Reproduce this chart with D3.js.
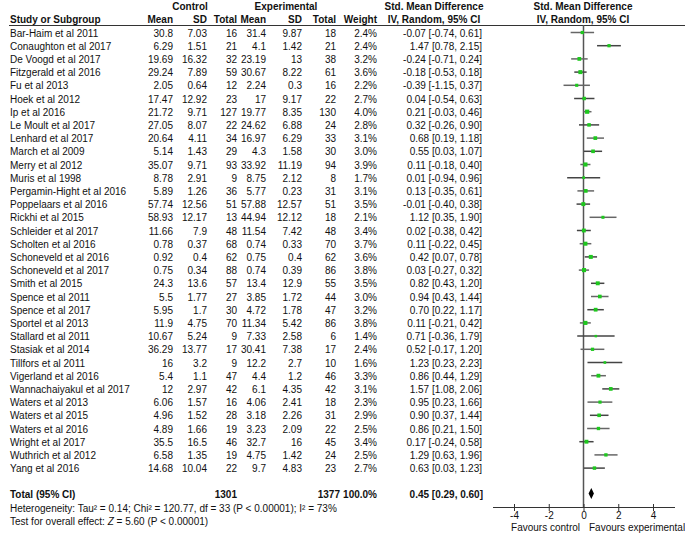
<!DOCTYPE html>
<html><head><meta charset="utf-8">
<script src="https://cdn.jsdelivr.net/npm/d3@7"></script>
<style>
body{margin:0;background:#fff;}
text{font-family:"Liberation Sans",Arial,sans-serif;font-size:10px;fill:#111;}
.b{font-weight:bold;}
</style></head><body>
<svg id="c" width="685" height="533"></svg>
<script>
const studies = ["Bar-Haim et al 2011","Conaughton et al 2017","De Voogd et al 2017","Fitzgerald et al 2016","Fu et al 2013","Hoek et al 2012","Ip et al 2016","Le Moult et al 2017","Lenhard et al 2017","March et al 2009","Merry et al 2012","Muris et al 1998","Pergamin-Hight et al 2016","Poppelaars et al 2016","Rickhi et al 2015","Schleider et al 2017","Scholten et al 2016","Schoneveld et al 2016","Schoneveld et al 2017","Smith et al 2015","Spence et al 2011","Spence et al 2017","Sportel et al 2013","Stallard et al 2011","Stasiak et al 2014","Tillfors et al 2011","Vigerland et al 2016","Wannachaiyakul et al 2017","Waters et al 2013","Waters et al 2015","Waters et al 2016","Wright et al 2017","Wuthrich et al 2012","Yang et al 2016"];
const ctrlMean = [30.8,6.29,19.69,29.24,2.05,17.47,21.72,27.05,20.64,5.14,35.07,8.78,5.89,57.74,58.93,11.66,0.78,0.92,0.75,24.3,5.5,5.95,11.9,10.67,36.29,16,5.4,12,6.06,4.96,4.89,35.5,6.58,14.68];
const ctrlSD = [7.03,1.51,16.32,7.89,0.64,12.92,9.71,8.07,4.11,1.43,9.71,2.91,1.26,12.56,12.17,7.9,0.37,0.4,0.34,13.6,1.77,1.7,4.75,5.24,13.77,3.2,1.1,2.97,1.57,1.52,1.66,16.5,1.35,10.04];
const ctrlN = [16,21,32,59,12,23,127,22,34,29,93,9,36,51,13,48,68,62,88,57,27,30,70,9,17,9,47,42,16,28,19,46,19,22];
const expMean = [31.4,4.1,23.19,30.67,2.24,17,19.77,24.62,16.97,4.3,33.92,8.75,5.77,57.88,44.94,11.54,0.74,0.75,0.74,13.4,3.85,4.72,11.34,7.33,30.41,12.2,4.4,6.1,4.06,3.18,3.23,32.7,4.75,9.7];
const expSD = [9.87,1.42,13,8.22,0.3,9.17,8.35,6.88,6.29,1.58,11.19,2.12,0.23,12.57,12.12,7.42,0.33,0.4,0.39,12.9,1.72,1.78,5.42,2.58,7.38,2.7,1.2,4.35,2.41,2.26,2.09,16,1.42,4.83];
const expN = [18,21,38,61,16,22,130,24,33,30,94,8,31,51,18,48,70,62,86,55,44,47,86,6,17,10,46,42,18,31,22,45,24,23];
const weight = [2.4,2.4,3.2,3.6,2.2,2.7,4.0,2.8,3.1,3.0,3.9,1.7,3.1,3.5,2.1,3.4,3.7,3.6,3.8,3.5,3.0,3.2,3.8,1.4,2.4,1.6,3.3,3.1,2.3,2.9,2.5,3.4,2.5,2.7];
const smd = [-0.07,1.47,-0.24,-0.18,-0.39,0.04,0.21,0.32,0.68,0.55,0.11,0.01,0.13,-0.01,1.12,0.02,0.11,0.42,0.03,0.82,0.94,0.70,0.11,0.71,0.52,1.23,0.86,1.57,0.95,0.90,0.86,0.17,1.29,0.63];
const ciLo = [-0.74,0.78,-0.71,-0.53,-1.15,-0.54,-0.03,-0.26,0.19,0.03,-0.18,-0.94,-0.35,-0.40,0.35,-0.38,-0.22,0.07,-0.27,0.43,0.43,0.22,-0.21,-0.36,-0.17,0.23,0.44,1.08,0.23,0.37,0.21,-0.24,0.63,0.03];
const ciHi = [0.61,2.15,0.24,0.18,0.37,0.63,0.46,0.90,1.18,1.07,0.40,0.96,0.61,0.38,1.90,0.42,0.45,0.78,0.32,1.20,1.44,1.17,0.42,1.79,1.20,2.23,1.29,2.06,1.66,1.44,1.50,0.58,1.96,1.23];
const total = {ctrlN:1301, expN:1377, weight:100.0, smd:0.45, lo:0.29, hi:0.60};
const axisTicks = [-4,-2,0,2,4];

const svg = d3.select("#c");
const f2 = d3.format(".2f"), f1 = d3.format(".1f");
const fmtCI = (m,l,h)=> (f2(m)+" ["+f2(l)+", "+f2(h)+"]").replace(/−/g,"-");
const x = d3.scaleLinear().domain([-4,4]).range([514,653]);
const y = d3.scaleLinear().domain([0,1]).range([33,46.2]);
const rowY = i => y(i);

// column right edges
const C = {cm:173, cs:207, cn:237, em:266, es:302, en:336, w:377, ci:482};

function t(g,xx,yy,s,anchor,cls){return g.append("text").attr("x",xx).attr("y",yy).attr("dy","0.35em").attr("text-anchor",anchor||"start").attr("class",cls||null).text(s);}

// Header
const hdr = svg.append("g").attr("class","b");
t(hdr,190,6,"Control","middle");
t(hdr,286,6,"Experimental","middle");
t(hdr,434,6,"Std. Mean Difference","middle");
t(hdr,583,6,"Std. Mean Difference","middle");
t(hdr,10,19,"Study or Subgroup");
t(hdr,C.cm,19,"Mean","end");
t(hdr,C.cs,19,"SD","end");
t(hdr,C.cn,19,"Total","end");
t(hdr,C.em,19,"Mean","end");
t(hdr,C.es,19,"SD","end");
t(hdr,C.en,19,"Total","end");
t(hdr,C.w,19,"Weight","end");
t(hdr,434,19,"IV, Random, 95% CI","middle");
t(hdr,583,19,"IV, Random, 95% CI","middle");
svg.append("line").attr("x1",9).attr("x2",685).attr("y1",25.5).attr("y2",25.5).attr("stroke","#333").attr("stroke-width",1);

// Rows
const rows = svg.append("g");
studies.forEach((s,i)=>{
  const yy = rowY(i);
  t(rows,10,yy,s);
  t(rows,C.cm,yy,String(ctrlMean[i]),"end");
  t(rows,C.cs,yy,String(ctrlSD[i]),"end");
  t(rows,C.cn,yy,String(ctrlN[i]),"end");
  t(rows,C.em,yy,String(expMean[i]),"end");
  t(rows,C.es,yy,String(expSD[i]),"end");
  t(rows,C.en,yy,String(expN[i]),"end");
  t(rows,C.w,yy,f1(weight[i])+"%","end");
  t(rows,C.ci,yy,fmtCI(smd[i],ciLo[i],ciHi[i]),"end");
});

// Zero line
svg.append("line").attr("x1",x(0)).attr("x2",x(0)).attr("y1",25).attr("y2",507).attr("stroke","#555").attr("stroke-width",1.5);

// CI lines and squares
const plot = svg.append("g");
studies.forEach((s,i)=>{
  const yy = rowY(i)-0.5;
  plot.append("line").attr("x1",x(ciLo[i])).attr("x2",x(ciHi[i])).attr("y1",yy).attr("y2",yy).attr("stroke",i%2?"#444":"#666").attr("stroke-width",1.5);
  const side = 2.1*Math.sqrt(weight[i]);
  plot.append("rect").attr("x",x(smd[i])-side/2).attr("y",yy-side/2).attr("width",side).attr("height",side).attr("fill","#1ec81e");
});

// Total row
const ty = 494;
t(svg,10,ty,"Total (95% CI)","start","b");
t(svg,C.cn,ty,String(total.ctrlN),"end","b");
t(svg,C.en+4,ty,String(total.expN),"end","b");
t(svg,C.w,ty,f1(total.weight)+"%","end","b");
t(svg,C.ci+1,ty,fmtCI(total.smd,total.lo,total.hi),"end","b");
svg.append("path").attr("d",`M${x(total.lo)},${ty-0.5} L${x(total.smd)},${ty-6} L${x(total.hi)},${ty-0.5} L${x(total.smd)},${ty+5} Z`).attr("fill","#000");

const het = t(svg,10,508,"");
het.append("tspan").text("Heterogeneity: Tau² = 0.14; Chi² = 120.77, df = 33 (P < 0.00001); I² = 73%");
const tst = t(svg,10,521,"");
tst.append("tspan").text("Test for overall effect: ");
tst.append("tspan").attr("font-style","italic").text("Z");
tst.append("tspan").text(" = 5.60 (P < 0.00001)");

// Axis
const ax = svg.append("g").attr("transform","translate(0,507)")
  .call(d3.axisBottom(x).tickValues(axisTicks).tickSize(4).tickSizeOuter(0).tickFormat(d=>String(d)));
ax.select(".domain").remove();
ax.selectAll(".tick line").attr("y1",-3).attr("y2",4).attr("stroke","#333");
ax.selectAll(".tick text").attr("y",5).attr("font-family","Liberation Sans, Arial, sans-serif").attr("font-size","10px").attr("fill","#111");
svg.append("line").attr("x1",493).attr("x2",675).attr("y1",507.5).attr("y2",507.5).attr("stroke","#333").attr("stroke-width",1);
t(svg,580,527,"Favours control","end");
t(svg,589,527,"Favours experimental","start");
</script>
</body></html>
